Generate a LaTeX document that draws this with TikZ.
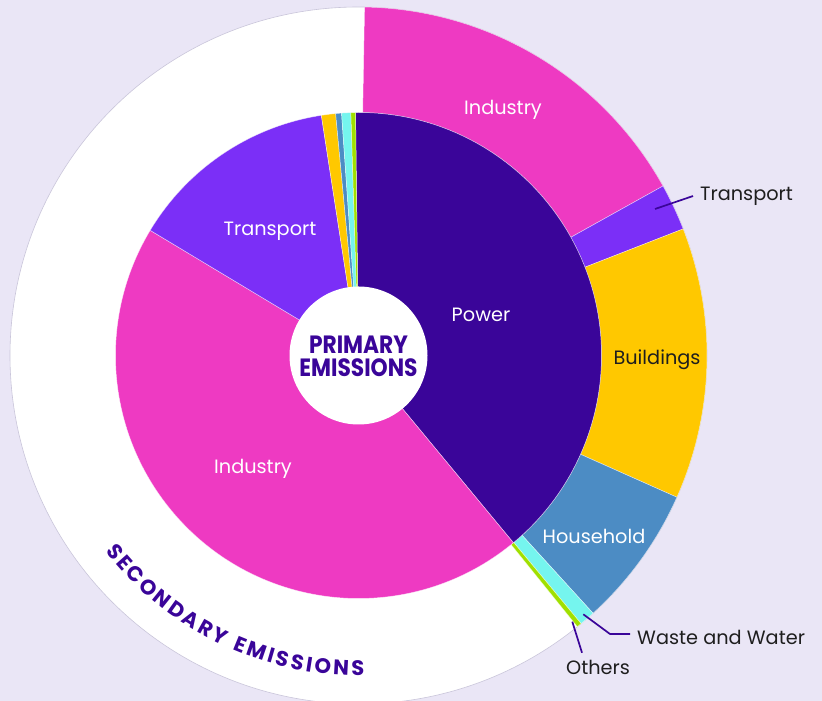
\documentclass[tikz,border=0pt]{standalone}
\usepackage{fontspec}
\setmainfont{Poppins}
\usetikzlibrary{decorations.text}
\definecolor{bg}{HTML}{EAE6F6}
\definecolor{power}{HTML}{3A0599}
\definecolor{industry}{HTML}{EE3AC2}
\definecolor{transport}{HTML}{7B2FF7}
\definecolor{buildings}{HTML}{FFC800}
\definecolor{household}{HTML}{4C8CC4}
\definecolor{waste}{HTML}{75F5EE}
\definecolor{others}{HTML}{A0E000}
\definecolor{labeldark}{HTML}{1E1E1E}
\definecolor{ringedge}{HTML}{C9C5DA}
\newcommand\ringseg[3]{\filldraw[seg, fill=#1] (#2:243pt) arc[start angle=#2, end angle=#3, radius=243pt] -- (#3:348.5pt) arc[start angle=#3, end angle=#2, radius=348.5pt] -- cycle;}
\newcommand\pieseg[3]{\filldraw[seg, fill=#1] (0,0) -- (#2:243pt) arc[start angle=#2, end angle=#3, radius=243pt] -- cycle;}
\begin{document}
\begin{tikzpicture}[x=1pt,y=1pt,
  seg/.style={draw=white, draw opacity=0.6, line width=0.5pt},
  lbl/.style={font=\fontsize{19.3}{19.3}\selectfont, inner sep=0pt, anchor=mid},
  wlbl/.style={lbl, text=white},
  dlbl/.style={lbl, text=labeldark},
  leader/.style={draw=power, line width=1.7pt}]
\fill[bg] (0,0) rectangle (822,701);
\useasboundingbox (0,0) rectangle (822,701);
\begin{scope}[shift={(358.5,345.5)}]
  \fill[white] (0,0) circle[radius=348.5pt];
  \draw[ringedge, line width=0.6pt] (0,0) circle[radius=348.5pt];
  % outer ring: secondary emissions
  \ringseg{industry}{89}{29.1}
  \ringseg{transport}{29.1}{21.3}
  \ringseg{buildings}{21.3}{-24}
  \ringseg{household}{-24}{-47.7}
  \ringseg{waste}{-47.7}{-50.3}
  \ringseg{others}{-50.3}{-51.1}
  % inner pie: primary emissions
  \pieseg{power}{90.7}{-50.4}
  \pieseg{industry}{-50.4}{-211}
  \pieseg{transport}{149}{98.8}
  \pieseg{buildings}{98.8}{95.4}
  \pieseg{household}{95.4}{94.0}
  \pieseg{waste}{94.0}{91.8}
  \pieseg{others}{91.8}{90.7}
  \fill[white] (0,0) circle[radius=69pt];
  \path[decorate, decoration={text along path,
      text={|\bfseries\color{power}\fontsize{21}{21}\selectfont|SECONDARY EMISSIONS},
      text align=fit to path}]
    (217.7:320pt) arc[start angle=217.7, end angle=271, radius=320pt];
\end{scope}
\node[font=\bfseries\fontsize{25}{22.7}\selectfont, text=power, align=center, inner sep=0pt, xscale=0.87, transform shape] (prim) at (358.5,345) {PRIMARY\\EMISSIONS};
\node[wlbl] (indout) at (503,589.5) {Industry};
\node[wlbl] (trin) at (270,468.5) {Transport};
\node[wlbl] (pow) at (481,382.5) {Power};
\node[wlbl] (indin) at (253,230.5) {Industry};
\node[dlbl] (bld) at (657,339.5) {Buildings};
\node[wlbl] (hh) at (594,160.5) {Household};
\node[dlbl, anchor=mid west] (trout) at (700,503.5) {Transport};
\node[dlbl, anchor=mid west] (ww) at (637,59.5) {Waste and Water};
\node[dlbl] (oth) at (598,29.5) {Others};
\coordinate (trpt) at (655,492);
\coordinate (wwpt) at (583.3,86.7);
\coordinate (wwbend) at (610,67);
\coordinate (othpt) at (572.3,79.3);
\draw[leader] (trpt) -- ([xshift=-7pt,yshift=0pt]trout.west);
\draw[leader, shorten >=7pt] (wwpt) -- (wwbend) -- (wwbend -| ww.west);
\draw[leader] (othpt) -- ([xshift=-16pt,yshift=7pt]oth.north);
\end{tikzpicture}
\end{document}
